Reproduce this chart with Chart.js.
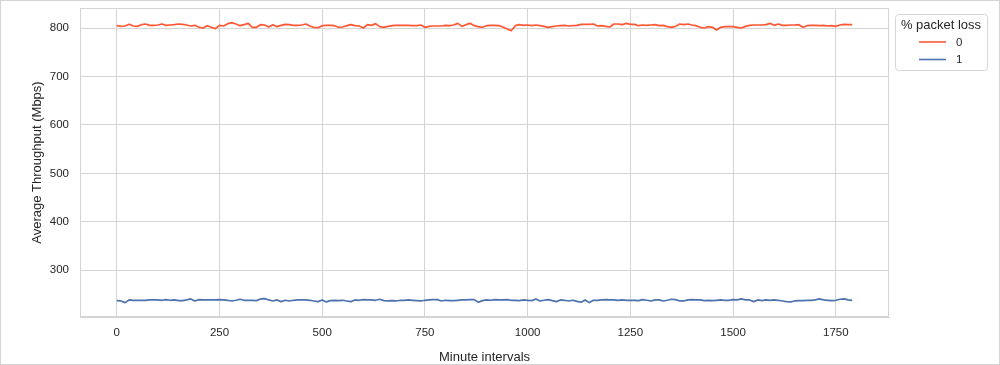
<!DOCTYPE html>
<html>
<head>
<meta charset="utf-8">
<title>Average Throughput</title>
<script src="https://cdn.jsdelivr.net/npm/chart.js@4.4.1/dist/chart.umd.min.js"></script>
<style>
  html, body { margin: 0; padding: 0; background: #fff; }
  #wrap { position: relative; width: 1000px; height: 365px; }
  #frame { position: absolute; left: 0; top: 0; width: 1000px; height: 365px; box-sizing: border-box;
           border: 1px solid #d4d4d4; pointer-events: none; }
</style>
</head>
<body>
<div id="wrap"><canvas id="chart" width="1000" height="365"></canvas><div id="frame"></div></div>
<script>
// minute intervals, one reading every 10 minutes (0 .. 1790)
const minutes = Array.from({length: 180}, (_, i) => i * 10);

const seriesNames = ["0", "1"];      // % packet loss
const legendTitle = "% packet loss";

// average throughput (Mbps), 0 % packet loss
const loss0 = [
  804.8,803.4,804.1,807.6,804.1,803.4,806.9,808.3,805.5,805.5,
  806.2,808.3,805.5,806.2,806.9,808.3,807.6,806.2,804.1,805.5,
  801.4,800.0,804.8,801.4,798.6,805.5,804.1,809.0,811.0,808.3,
  804.8,806.9,809.6,801.4,801.4,806.9,806.2,802.1,806.9,802.8,
  805.5,807.6,806.9,805.5,805.5,806.2,808.3,804.1,801.4,800.7,
  804.8,805.5,805.5,804.8,801.4,802.1,804.8,806.9,804.8,804.1,
  800.0,806.9,805.5,809.0,802.8,801.4,
  803.4,804.8,805.5,805.5,805.5,805.5,804.8,804.8,806.2,801.4,
  803.4,804.1,804.1,804.1,805.5,804.8,806.2,809.6,803.4,806.9,
  809.6,804.8,802.8,801.4,804.8,805.5,805.5,804.8,802.1,797.9,
  794.5,804.8,806.9,805.5,806.2,804.8,806.2,804.8,803.4,801.4,
  802.8,804.1,804.8,805.5,804.1,804.8,805.5,807.6,807.6,807.6,
  808.3,804.1,804.8,803.4,802.1,808.3,808.3,806.9,809.6,807.6,
  807.6,804.8,806.2,805.5,806.2,806.9,804.8,805.5,802.8,801.4,
  803.4,808.3,
  806.9,808.3,806.2,804.8,801.4,800.0,802.8,801.4,795.9,801.4,
  802.8,802.8,802.8,801.4,800.0,803.4,805.5,806.2,806.2,806.2,
  806.9,809.6,805.5,808.3,805.5,805.5,806.2,806.2,806.9,801.4,
  804.8,805.5,805.5,804.8,805.5,804.1,804.8,803.4,806.2,807.6,
  806.9,806.9
];

// average throughput (Mbps), 1 % packet loss
const loss1 = [
  237.3,236.6,233.2,238.7,238.0,238.0,238.0,238.0,238.7,238.7,
  238.7,238.0,239.4,238.0,238.7,237.3,237.3,238.7,240.8,236.6,
  239.4,238.7,238.7,238.7,238.7,239.4,238.7,238.0,236.6,238.0,
  240.1,238.0,238.0,238.0,237.3,240.8,241.5,238.7,236.6,238.7,
  235.3,238.0,236.6,238.0,238.7,238.7,238.7,238.0,236.6,235.3,
  238.7,234.6,237.3,238.0,237.3,238.0,236.6,235.3,238.7,238.0,
  239.4,238.7,238.7,238.0,240.1,237.3,
  236.6,237.3,236.6,238.0,238.0,238.7,238.0,237.3,236.6,238.0,
  238.7,239.4,239.4,236.6,238.0,237.3,237.3,238.0,238.7,238.7,
  239.4,239.4,233.9,237.3,238.7,238.0,239.4,238.7,238.7,239.4,
  238.0,238.0,237.3,238.7,238.0,237.3,240.8,236.6,238.0,239.4,
  237.3,235.3,238.7,238.0,236.6,238.0,235.9,233.9,238.7,233.2,
  238.0,238.0,238.7,239.4,238.7,238.7,238.0,238.7,238.0,238.0,
  238.0,237.3,239.4,238.0,236.6,238.7,238.7,236.6,238.0,240.1,
  239.4,236.6,
  236.6,238.7,239.4,238.7,238.7,237.3,238.0,237.3,238.0,238.7,
  238.0,238.0,239.4,238.7,240.8,238.7,238.7,235.3,238.7,237.3,
  238.7,238.0,238.7,238.0,236.6,235.3,234.6,236.6,237.3,237.3,
  238.0,238.0,238.7,240.8,238.7,238.0,237.3,238.0,240.1,240.8,
  238.7,238.0
];

const xTicks = [0, 250, 500, 750, 1000, 1250, 1500, 1750];
const yTicks = [300, 400, 500, 600, 700, 800];

const FONT = '"Liberation Sans", Arial, sans-serif';
const TXT = "#262626";
const GRID = "#d4d4d4";

function pts(vals){ return vals.map((v, i) => ({x: minutes[i], y: v})); }

// full box round the plot + legend on the right
const extras = {
  id: "extras",
  afterDraw(chart){
    const ctx = chart.ctx, a = chart.chartArea;
    ctx.save();
    ctx.strokeStyle = GRID; ctx.lineWidth = 1;
    ctx.strokeRect(Math.round(a.left) + 0.5, Math.round(a.top) + 0.5,
                   Math.round(a.right - a.left) - 1, Math.round(a.bottom - a.top) - 1);

    ctx.beginPath(); ctx.roundRect(895.5, 14.5, 92, 56, 3);
    ctx.fillStyle = "#fff"; ctx.fill(); ctx.strokeStyle = "#d6d6d6"; ctx.stroke();
    ctx.fillStyle = TXT; ctx.font = "13px " + FONT;
    ctx.textAlign = "center"; ctx.textBaseline = "middle";
    ctx.fillText(legendTitle, 941, 25);
    chart.data.datasets.forEach((ds, i) => {
      const y = 42 + i * 17.5;
      ctx.strokeStyle = ds.borderColor; ctx.lineWidth = 1.6;
      ctx.beginPath(); ctx.moveTo(919, y); ctx.lineTo(946, y); ctx.stroke();
      ctx.fillStyle = TXT; ctx.font = "11.5px " + FONT; ctx.textAlign = "left";
      ctx.fillText(ds.label, 956, y + 0.5);
    });
    ctx.restore();
  }
};

new Chart(document.getElementById("chart").getContext("2d"), {
  type: "line",
  data: {
    datasets: [
      { label: seriesNames[0], data: pts(loss0), borderColor: "#ff5733", borderWidth: 1.7 },
      { label: seriesNames[1], data: pts(loss1), borderColor: "#4c72b0", borderWidth: 1.7 }
    ]
  },
  options: {
    responsive: false, animation: false, devicePixelRatio: 1,
    layout: { padding: { left: 0, right: 111, top: 8, bottom: 0 } },
    elements: { point: { radius: 0 }, line: { tension: 0, borderJoinStyle: "round", fill: false } },
    plugins: { legend: { display: false }, tooltip: { enabled: false } },
    scales: {
      x: {
        type: "linear", min: -89.5, max: 1879.5,
        afterBuildTicks: s => { s.ticks = xTicks.map(v => ({value: v})); },
        afterFit: s => { s.height = 48; s.paddingLeft = 0; s.paddingRight = 0; },
        grid: { color: GRID, lineWidth: 1, drawTicks: false },
        border: { color: GRID },
        ticks: { padding: 9, color: TXT, font: { family: FONT, size: 11.5 }, maxRotation: 0, autoSkip: false,
                 callback: v => String(v) },
        title: { display: true, text: "Minute intervals", color: TXT, font: { family: FONT, size: 13 }, padding: { top: 0, bottom: 0 } }
      },
      y: {
        min: 203.5, max: 841.3,
        afterBuildTicks: s => { s.ticks = yTicks.map(v => ({value: v})); },
        afterFit: s => { s.width = 80; s.paddingTop = 0; s.paddingBottom = 0; },
        grid: { color: GRID, lineWidth: 1, drawTicks: false },
        border: { color: GRID },
        ticks: { padding: 11, color: TXT, font: { family: FONT, size: 11.5 }, callback: v => String(v) },
        title: { display: true, text: "Average Throughput (Mbps)", color: TXT, font: { family: FONT, size: 13 }, padding: { top: 30, bottom: 0 } }
      }
    }
  },
  plugins: [extras]
});
</script>
</body>
</html>
